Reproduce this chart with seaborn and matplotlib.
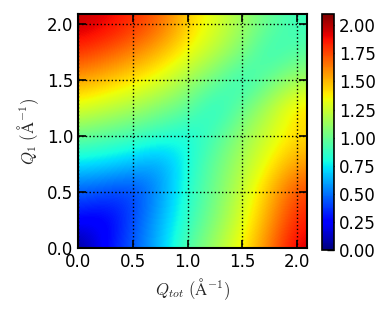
import numpy as np
import pandas as pd
import seaborn as sns
import matplotlib
matplotlib.use("Agg")
import matplotlib.pyplot as plt

# grid positions (A^-1)
q_tot = [0.0, 0.25, 0.5, 0.75, 1.0, 1.25, 1.5, 1.75, 2.0]
q_1 = [0.0, 0.25, 0.5, 0.75, 1.0, 1.25, 1.5, 1.75, 2.0]

# values, one row per Q1 (bottom to top), columns along Q_tot
row_000 = [0.00, 0.27, 0.45, 0.66, 0.95, 1.15, 1.38, 1.65, 1.95]
row_025 = [0.27, 0.20, 0.42, 0.63, 0.86, 1.07, 1.30, 1.57, 1.85]
row_050 = [0.45, 0.42, 0.37, 0.58, 0.84, 1.02, 1.25, 1.50, 1.76]
row_075 = [0.73, 0.70, 0.65, 0.57, 0.80, 1.00, 1.18, 1.38, 1.57]
row_100 = [1.00, 0.95, 0.90, 0.84, 0.78, 0.92, 1.12, 1.28, 1.42]
row_125 = [1.30, 1.23, 1.16, 1.06, 0.98, 0.80, 1.00, 1.20, 1.43]
row_150 = [1.55, 1.48, 1.40, 1.30, 1.14, 1.00, 0.83, 1.00, 1.15]
row_175 = [1.80, 1.72, 1.62, 1.50, 1.35, 1.20, 1.05, 0.85, 0.95]
row_200 = [1.98, 1.92, 1.82, 1.68, 1.45, 1.30, 1.13, 0.98, 0.88]

df = pd.DataFrame([row_000, row_025, row_050, row_075, row_100,
                   row_125, row_150, row_175, row_200],
                  index=q_1, columns=q_tot)

sns.set_theme(style="ticks", rc={
    "axes.edgecolor": "black",
    "axes.linewidth": 1.5,
    "xtick.direction": "in",
    "ytick.direction": "in",
    "xtick.top": True,
    "ytick.right": True,
    "xtick.major.size": 6,
    "ytick.major.size": 6,
    "xtick.color": "black",
    "ytick.color": "black",
    "mathtext.fontset": "cm",
})
plt.rcParams['font.family'] = ['DejaVu Sans']

cmap = matplotlib.colormaps["jet"]

fig = plt.figure(figsize=(3.84, 3.12), dpi=100)
ax = fig.add_axes([0.203, 0.205, 0.597, 0.750])
cax = fig.add_axes([0.8385, 0.199, 0.0315, 0.756])

step = q_tot[1] - q_tot[0]
ext = [q_tot[0] - step / 2, q_tot[-1] + step / 2, q_1[0] - step / 2, q_1[-1] + step / 2]
im = ax.imshow(df.values, origin="lower", extent=ext, cmap=cmap,
               vmin=0, vmax=2.1, interpolation="bicubic", aspect="auto")
ax.set_xlim(0, 2.09)
ax.set_ylim(0, 2.09)
ax.set_xticks([0.0, 0.5, 1.0, 1.5, 2.0])
ax.set_yticks([0.0, 0.5, 1.0, 1.5, 2.0])
ax.tick_params(labelsize=12, width=1.2)
ax.grid(True, color="black", linestyle=":", linewidth=1.0)
ax.set_xlabel(r"$Q_{tot}\ (\mathrm{\AA}^{-1})$", fontsize=12)
ax.set_ylabel(r"$Q_1\ (\mathrm{\AA}^{-1})$", fontsize=12)

cb = fig.colorbar(im, cax=cax, ticks=[0, 0.25, 0.5, 0.75, 1.0, 1.25, 1.5, 1.75, 2.0])
cb.ax.yaxis.set_major_formatter(matplotlib.ticker.FormatStrFormatter("%.2f"))
cb.ax.tick_params(labelsize=12, direction="in", length=5, width=1.0, right=True)
cb.outline.set_linewidth(1.2)

fig.savefig("out.png", dpi=100)
